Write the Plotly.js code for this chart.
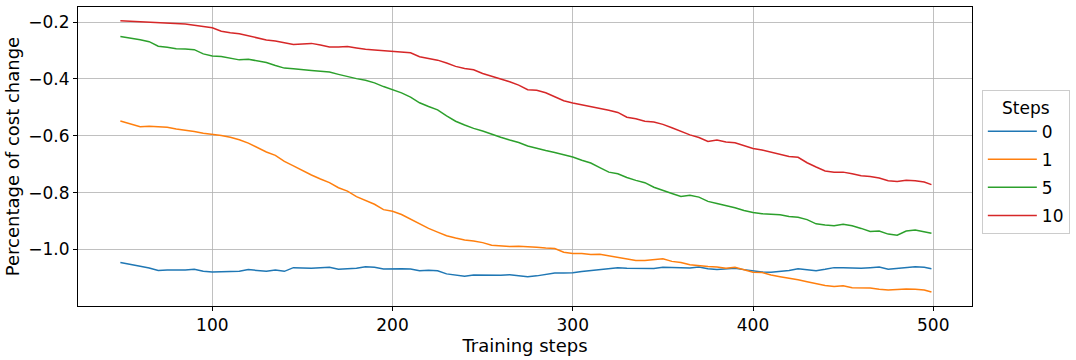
<!DOCTYPE html>
<html>
<head>
<meta charset="utf-8">
<script src="https://cdn.plot.ly/plotly-3.0.1.min.js"></script>
<style>
  html, body { margin: 0; padding: 0; background: #ffffff; }
  #chart { width: 1076px; height: 360px; }
</style>
</head>
<body>
<div id="chart"></div>
<script>
const steps = [49,55,60,65,70,75,80,85,90,95,100,105,110,115,120,125,130,135,140,145,150,155,160,165,170,175,180,185,190,195,200,205,210,215,220,225,230,235,240,245,250,255,260,265,270,275,280,285,290,295,300,305,310,315,320,325,330,335,340,345,350,355,360,365,370,375,380,385,390,395,400,405,410,415,420,425,430,435,440,445,450,455,460,465,470,475,480,485,490,495,499];

const seriesNames = ["0", "1", "5", "10"];

const steps0 = [-1.046,-1.052,-1.059,-1.065,-1.074,-1.072,-1.073,-1.072,-1.070,-1.077,-1.079,-1.078,-1.077,-1.077,-1.071,-1.074,-1.077,-1.072,-1.077,-1.064,-1.065,-1.066,-1.064,-1.063,-1.070,-1.069,-1.066,-1.061,-1.063,-1.069,-1.068,-1.068,-1.069,-1.075,-1.073,-1.075,-1.086,-1.091,-1.094,-1.090,-1.091,-1.092,-1.091,-1.089,-1.093,-1.096,-1.093,-1.088,-1.083,-1.083,-1.082,-1.078,-1.074,-1.070,-1.067,-1.064,-1.066,-1.067,-1.068,-1.067,-1.063,-1.063,-1.065,-1.065,-1.062,-1.068,-1.071,-1.069,-1.066,-1.071,-1.076,-1.079,-1.080,-1.077,-1.074,-1.068,-1.071,-1.075,-1.070,-1.064,-1.064,-1.065,-1.066,-1.064,-1.062,-1.070,-1.067,-1.064,-1.061,-1.063,-1.068];

const steps1 = [-0.548,-0.560,-0.568,-0.567,-0.568,-0.570,-0.576,-0.580,-0.585,-0.591,-0.594,-0.599,-0.605,-0.614,-0.626,-0.643,-0.657,-0.669,-0.690,-0.706,-0.723,-0.738,-0.752,-0.765,-0.783,-0.795,-0.814,-0.828,-0.841,-0.860,-0.866,-0.877,-0.893,-0.910,-0.926,-0.939,-0.952,-0.960,-0.967,-0.970,-0.976,-0.985,-0.988,-0.990,-0.989,-0.990,-0.992,-0.995,-0.997,-1.010,-1.014,-1.014,-1.018,-1.017,-1.023,-1.029,-1.035,-1.039,-1.039,-1.036,-1.033,-1.042,-1.046,-1.054,-1.058,-1.060,-1.062,-1.066,-1.063,-1.072,-1.080,-1.081,-1.090,-1.096,-1.101,-1.107,-1.114,-1.121,-1.127,-1.130,-1.128,-1.135,-1.136,-1.136,-1.140,-1.143,-1.141,-1.139,-1.140,-1.143,-1.150];

const steps5 = [-0.251,-0.256,-0.262,-0.269,-0.285,-0.289,-0.294,-0.295,-0.297,-0.312,-0.319,-0.321,-0.326,-0.333,-0.331,-0.336,-0.342,-0.353,-0.362,-0.364,-0.366,-0.370,-0.373,-0.376,-0.384,-0.392,-0.399,-0.405,-0.414,-0.427,-0.437,-0.449,-0.464,-0.484,-0.497,-0.509,-0.530,-0.549,-0.562,-0.574,-0.583,-0.595,-0.605,-0.615,-0.624,-0.636,-0.645,-0.652,-0.659,-0.666,-0.675,-0.686,-0.696,-0.712,-0.728,-0.734,-0.747,-0.757,-0.765,-0.781,-0.791,-0.803,-0.814,-0.809,-0.816,-0.831,-0.838,-0.845,-0.853,-0.863,-0.870,-0.874,-0.876,-0.878,-0.884,-0.887,-0.895,-0.910,-0.914,-0.917,-0.911,-0.917,-0.926,-0.937,-0.935,-0.946,-0.950,-0.935,-0.932,-0.937,-0.943];

const steps10 = [-0.195,-0.197,-0.199,-0.200,-0.201,-0.203,-0.205,-0.207,-0.211,-0.215,-0.220,-0.232,-0.238,-0.241,-0.248,-0.256,-0.263,-0.267,-0.272,-0.279,-0.277,-0.275,-0.281,-0.288,-0.288,-0.286,-0.291,-0.296,-0.298,-0.301,-0.303,-0.305,-0.308,-0.322,-0.327,-0.334,-0.344,-0.356,-0.363,-0.368,-0.381,-0.390,-0.400,-0.410,-0.422,-0.438,-0.440,-0.449,-0.463,-0.477,-0.485,-0.491,-0.497,-0.505,-0.510,-0.518,-0.535,-0.540,-0.549,-0.552,-0.560,-0.572,-0.585,-0.597,-0.606,-0.620,-0.615,-0.622,-0.625,-0.635,-0.645,-0.650,-0.658,-0.667,-0.673,-0.676,-0.695,-0.710,-0.724,-0.728,-0.728,-0.734,-0.741,-0.743,-0.749,-0.758,-0.761,-0.757,-0.758,-0.763,-0.772];

const yTickVals = [-1.0, -0.8, -0.6, -0.4, -0.2];
const xTickVals = [100, 200, 300, 400, 500];

const colors = ["#1f77b4", "#ff7f0e", "#2ca02c", "#d62728"];
const allY = [steps0, steps1, steps5, steps10];

const traces = allY.map((ys, i) => ({
  x: steps,
  y: ys,
  type: "scatter",
  mode: "lines",
  name: seriesNames[i],
  legendgroup: "g" + i,
  line: { color: colors[i], width: 1.5 }
}));

const FONT = "DejaVu Sans, sans-serif";

const layout = {
  width: 1076,
  height: 360,
  margin: { l: 78, r: 104, t: 7, b: 54, pad: 0, autoexpand: false },
  paper_bgcolor: "#ffffff",
  plot_bgcolor: "#ffffff",
  font: { family: FONT, size: 17, color: "#000000" },
  showlegend: true,
  xaxis: {
    range: [25.5, 521.5],
    tickvals: xTickVals,
    ticktext: xTickVals.map(String),
    ticks: "outside",
    ticklen: 4,
    tickwidth: 1,
    tickcolor: "#000000",
    showline: true,
    linecolor: "#000000",
    linewidth: 1,
    mirror: true,
    showgrid: true,
    gridcolor: "#b0b0b0",
    gridwidth: 0.8,
    zeroline: false,
    tickfont: { family: FONT, size: 17, color: "#000000" },
    title: { text: "Training steps", font: { family: FONT, size: 18, color: "#000000" }, standoff: 4 }
  },
  yaxis: {
    range: [-1.199, -0.147],
    tickvals: yTickVals,
    tickformat: ".1f",
    ticks: "outside",
    ticklen: 4,
    tickwidth: 1,
    tickcolor: "#000000",
    showline: true,
    linecolor: "#000000",
    linewidth: 1,
    mirror: true,
    showgrid: true,
    gridcolor: "#b0b0b0",
    gridwidth: 0.8,
    zeroline: false,
    tickfont: { family: FONT, size: 17, color: "#000000" },
    title: { text: "Percentage of cost change", font: { family: FONT, size: 18, color: "#000000" }, standoff: 4 }
  },
  legend: {
    x: 1.011,
    xanchor: "left",
    y: 0.48,
    yanchor: "middle",
    bgcolor: "rgba(255,255,255,0.8)",
    bordercolor: "#cccccc",
    borderwidth: 1,
    font: { family: FONT, size: 17, color: "#000000" },
    title: { text: "Steps", side: "top center", font: { family: FONT, size: 17, color: "#000000" } },
    tracegroupgap: 3,
    itemwidth: 49
  }
};

Plotly.newPlot("chart", traces, layout, { displayModeBar: false, staticPlot: true });
</script>
</body>
</html>
